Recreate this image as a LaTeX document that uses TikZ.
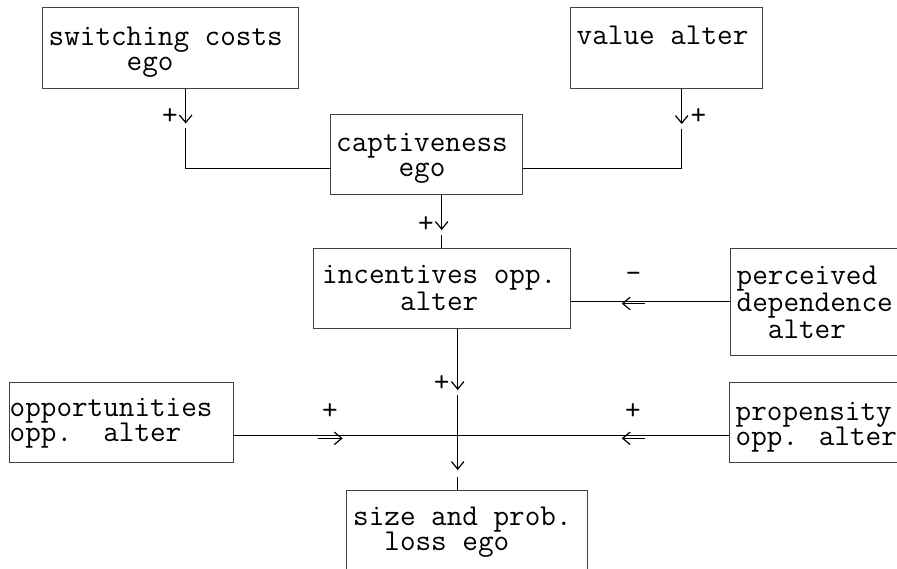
\documentclass[tikz,border=0pt]{standalone}
\usepackage{fontspec}
\usetikzlibrary{arrows.meta,calc}
\begin{document}
\begin{tikzpicture}[x=1pt,y=-1pt,
  box/.style={draw=black!75,line width=0.9pt,inner sep=0pt,anchor=north west},
  txt/.style={inner sep=0pt,anchor=base west,text height=17pt,text depth=6pt,font=\ttfamily\fontsize{30.3}{25}\selectfont},
  sign/.style={inner sep=0pt,anchor=center,font=\ttfamily\fontsize{30.3}{25}\selectfont},
  conn/.style={draw=black,line width=0.9pt},
  tip/.style={-{Straight Barb[length=7.5pt,width=12.5pt,line width=1.2pt]},line width=1.2pt}]
\useasboundingbox (0,0) rectangle (897,568);
\clip (0,0) rectangle (897,568);
\fill[white] (0,0) rectangle (897,568);
% boxes
\node[box,minimum width=256pt,minimum height=80.4pt] (sw) at (41.7,7.3) {};
\node[box,minimum width=192pt,minimum height=80.7pt] (va) at (569.7,7.3) {};
\node[box,minimum width=192pt,minimum height=79.7pt] (cap) at (329.7,114.3) {};
\node[box,minimum width=256.7pt,minimum height=80pt] (inc) at (313.3,248.3) {};
\node[box,minimum width=200pt,minimum height=106.7pt] (per) at (730,248.3) {};
\node[box,minimum width=224pt,minimum height=79.4pt] (opp) at (9.3,382.3) {};
\node[box,minimum width=200pt,minimum height=79.4pt] (pro) at (729.3,382.3) {};
\node[box,minimum width=241pt,minimum height=110pt] (size) at (345.7,490) {};
% texts
\node[txt] (t1a) at (48.5,45) {switching costs};
\node[txt] (t1b) at (48.5,70) {\hphantom{xxxxx}ego};
\node[txt] (t2a) at (576.5,44.3) {value alter};
\node[txt] (t3a) at (336,151.7) {captiveness};
\node[txt] (t3b) at (336,176.7) {\hphantom{xxxx}ego};
\node[txt] (t4a) at (322,283.3) {incentives opp.};
\node[txt] (t4b) at (322,310) {\hphantom{xxxxx}alter};
\node[txt] (t5a) at (736.5,284) {perceived};
\node[txt] (t5b) at (736.5,311.5) {dependence};
\node[txt] (t5c) at (736.5,338.5) {\hphantom{xx}alter};
\node[txt] (t6a) at (9.5,416.7) {opportunities};
\node[txt] (t6b) at (9.5,441.7) {opp.\hphantom{xx}alter};
\node[txt] (t7a) at (735.5,420) {propensity};
\node[txt] (t7b) at (735.5,445) {opp. alter};
\node[txt] (t8a) at (353,525) {size and prob.};
\node[txt] (t8b) at (353,550) {\hphantom{xx}loss ego};
% connector: switching costs -> captiveness
\coordinate (a1) at (185.7,123.5);
\coordinate (a1c) at (185.7,128);
\coordinate (a1b) at (185.7,168.3);
\draw[conn,tip] (sw.south -| a1) -- (a1);
\draw[conn] (a1c) -- (a1b) -- (a1b -| cap.west);
\node[sign] (s1) at (170,116.7) {+};
% connector: value alter -> captiveness
\coordinate (a2) at (681.7,124);
\coordinate (a2c) at (681.7,128.5);
\coordinate (a2b) at (681.7,168.3);
\draw[conn,tip] (va.south -| a2) -- (a2);
\draw[conn] (a2c) -- (a2b) -- (a2b -| cap.east);
\node[sign] (s2) at (698.3,117) {+};
% captiveness -> incentives
\coordinate (a3) at (441.7,230);
\coordinate (a3c) at (441.7,235);
\draw[conn,tip] (cap.south -| a3) -- (a3);
\draw[conn] (a3c) -- (inc.north -| a3c);
\node[sign] (s3) at (426,224.3) {+};
% perceived -> incentives
\coordinate (h4) at (730,301);
\draw[conn] (per.west |- h4) -- (inc.east |- h4);
\coordinate (a4s) at (645,303.5);
\coordinate (a4) at (621.7,303.5);
\draw[tip] (a4s) -- (a4);
\node[sign] (s4) at (633.5,277.5) {-};
% incentives -> size
\coordinate (a5) at (457.7,390);
\coordinate (a5c) at (457.7,395);
\coordinate (a6) at (457.7,470);
\coordinate (a6c) at (457.7,476.7);
\draw[conn,tip] (inc.south -| a5) -- (a5);
\draw[conn,tip] (a5c) -- (a6);
\draw[conn] (a6c) -- (size.north -| a6c);
\node[sign] (s5) at (441.7,384) {+};
% opportunities / propensity -> horizontal line
\coordinate (h6) at (233.3,435);
\draw[conn] (opp.east |- h6) -- (pro.west |- h6);
\coordinate (a7s) at (318.3,438.3);
\coordinate (a7) at (342.7,438.3);
\draw[tip] (a7s) -- (a7);
\coordinate (a8s) at (645,438.3);
\coordinate (a8) at (621.7,438.3);
\draw[tip] (a8s) -- (a8);
\node[sign] (s6) at (330,411.7) {+};
\node[sign] (s7) at (633,411.7) {+};
\end{tikzpicture}
\end{document}
